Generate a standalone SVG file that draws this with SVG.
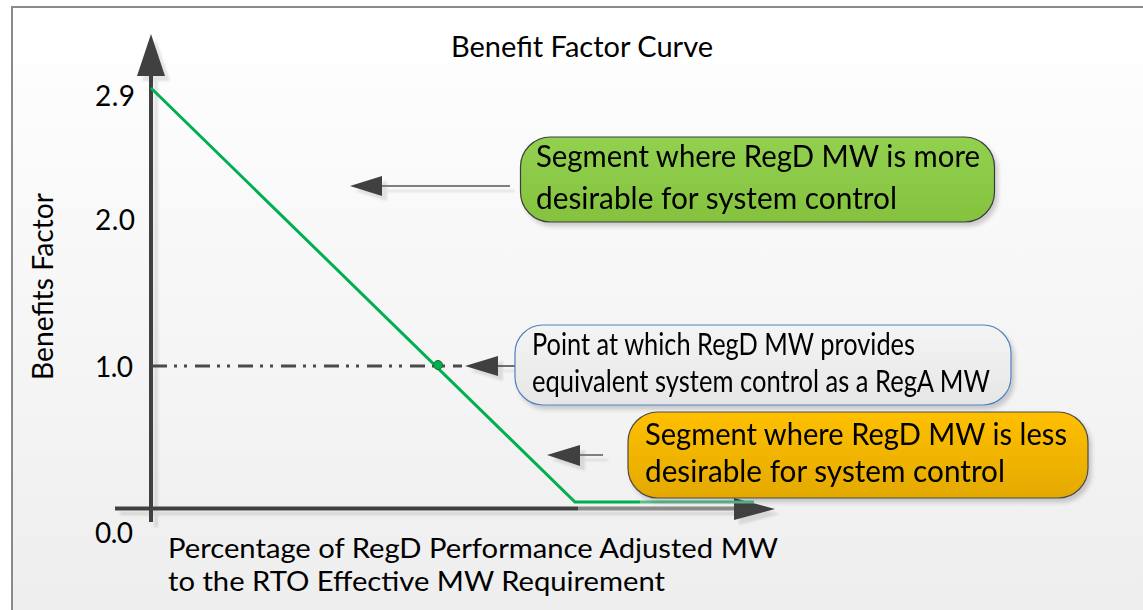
<svg xmlns="http://www.w3.org/2000/svg" width="1143" height="610" viewBox="0 0 1143 610">
<style>
text{font-family:Lato,"Open Sans","Liberation Sans",sans-serif;fill:#000}
.bt{font-size:30px}
.num{font-size:28px}
.ax{fill:none;stroke:#404040;stroke-width:4}
.ptr{stroke:#7f7f7f;stroke-width:2;fill:none}
.head{fill:#404040}
</style>
<defs>
<linearGradient id="bg" x1="0" y1="0" x2="0" y2="1">
<stop offset="0" stop-color="#fdfdfd"/><stop offset="1" stop-color="#eeeeee"/>
</linearGradient>
<linearGradient id="gG" x1="0" y1="0" x2="0" y2="1">
<stop offset="0" stop-color="#92d050"/><stop offset="1" stop-color="#84c23e"/>
</linearGradient>
<linearGradient id="gP" x1="0" y1="0" x2="0" y2="1">
<stop offset="0" stop-color="#f4f4f4"/><stop offset="1" stop-color="#e6e6e6"/>
</linearGradient>
<linearGradient id="gO" x1="0" y1="0" x2="0" y2="1">
<stop offset="0" stop-color="#ffc000"/><stop offset="1" stop-color="#e3a900"/>
</linearGradient>
<filter id="sh" x="-10%" y="-10%" width="130%" height="140%">
<feDropShadow dx="3" dy="4" stdDeviation="2" flood-color="#000" flood-opacity="0.18"/>
</filter>
<filter id="sh2" x="-10%" y="-10%" width="130%" height="130%">
<feDropShadow dx="5" dy="5" stdDeviation="0.8" flood-color="#000" flood-opacity="0.1"/>
</filter>
</defs>

<g id="background">
<rect x="12" y="7" width="1140" height="620" fill="#ffffff" stroke="#8a8a8a" stroke-width="2"/>
<rect x="13" y="63" width="1130" height="547" fill="url(#bg)"/>
</g>

<g id="title"><text x="451" y="57" font-size="29" textLength="262" lengthAdjust="spacingAndGlyphs">Benefit Factor Curve</text></g>

<g id="axes" filter="url(#sh2)">
<line class="ax" x1="151" y1="72" x2="151" y2="522"/>
<polygon class="head" points="151,34 137,76 165,76"/>
<line class="ax" x1="115" y1="508.5" x2="578" y2="508.5"/>
<line x1="578" y1="508.5" x2="736" y2="508.5" stroke="#8a8a8a" stroke-width="4"/>
<polygon class="head" points="775,509 734,498 734,520"/>
</g>

<g id="axis-labels">
<text class="num" x="95" y="106" textLength="40">2.9</text>
<text class="num" x="95" y="230" textLength="40">2.0</text>
<text class="num" x="95" y="377" textLength="38">1.0</text>
<text class="num" x="95" y="543" textLength="38">0.0</text>
<text font-size="28" transform="translate(53,380) rotate(-90)" textLength="187" lengthAdjust="spacingAndGlyphs">Benefits Factor</text>
<text font-size="27" x="168" y="558" textLength="610" lengthAdjust="spacingAndGlyphs">Percentage of RegD Performance Adjusted MW</text>
<text font-size="27" x="168" y="591" textLength="497" lengthAdjust="spacingAndGlyphs">to the RTO Effective MW Requirement</text>
</g>

<g id="curve">
<line x1="152" y1="366" x2="462" y2="366" stroke="#4a4a4a" stroke-width="3" stroke-dasharray="15 7 3 7 3 8"/>
<polyline points="151,88 575,502 640,502" fill="none" stroke="#00b050" stroke-width="3"/>
<line x1="640" y1="502" x2="754" y2="502" stroke="#5cc08a" stroke-width="3"/>
<circle cx="438" cy="365" r="4.5" fill="#00b050" stroke="#1a6b3a" stroke-width="1"/>
</g>

<g id="connectors">
<g filter="url(#sh2)">
<line class="ptr" x1="380" y1="186" x2="510" y2="186"/>
<polygon class="head" points="350,186 382,176 382,196"/>
<line x1="496" y1="366" x2="516" y2="366" stroke="#404040" stroke-width="1.5"/>
<polygon class="head" points="465,366 498,356 498,376"/>
<line class="ptr" x1="578" y1="455" x2="603" y2="455"/>
<polygon class="head" points="547,455 580,445 580,466"/>
</g>
</g>

<g id="node-more" filter="url(#sh)">
<rect x="520.5" y="137" width="474" height="85" rx="30" fill="url(#gG)" stroke="#3c3c3c" stroke-width="1.2"/>
<text class="bt" x="536" y="167" textLength="444" lengthAdjust="spacingAndGlyphs">Segment where RegD MW is more</text>
<text class="bt" x="536" y="209" textLength="361" lengthAdjust="spacingAndGlyphs">desirable for system control</text>
</g>

<g id="node-point" filter="url(#sh)">
<rect x="515" y="325" width="496" height="80" rx="28" fill="url(#gP)" stroke="#4f81bd" stroke-width="1.2"/>
<text class="bt" x="532" y="355" textLength="383" lengthAdjust="spacingAndGlyphs">Point at which RegD MW provides</text>
<text class="bt" x="532" y="392" textLength="458" lengthAdjust="spacingAndGlyphs">equivalent system control as a RegA MW</text>
</g>

<g id="node-less" filter="url(#sh)">
<rect x="628" y="412" width="460" height="86" rx="30" fill="url(#gO)" stroke="#4a4a4a" stroke-width="1.2"/>
<text class="bt" x="645" y="445" textLength="422" lengthAdjust="spacingAndGlyphs">Segment where RegD MW is less</text>
<text class="bt" x="645" y="482" textLength="360" lengthAdjust="spacingAndGlyphs">desirable for system control</text>
</g>
</svg>
